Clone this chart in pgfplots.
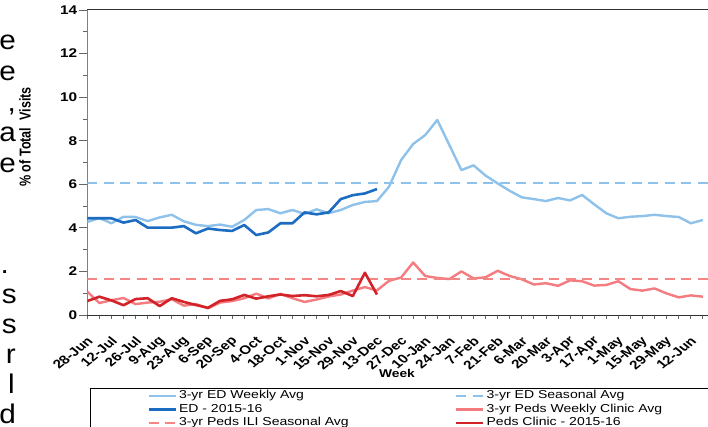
\documentclass[border=0pt]{standalone}
\usepackage{fontspec}
\setmainfont{Liberation Sans}[FakeStretch=1.22]
\newfontfamily\plainfont{Liberation Sans}
\usepackage{pgfplots}
\usepackage{pgfplotstable}
\pgfplotsset{compat=1.18}
\definecolor{ltblue}{HTML}{8FC2EA}
\definecolor{dkblue}{HTML}{1C6DC1}
\definecolor{pinkc}{HTML}{F47B7F}
\definecolor{pinkd}{HTML}{F58686}
\definecolor{dkred}{HTML}{D22329}

\pgfplotstableread{
w v
0 4.27
1 4.45
2 4.21
3 4.51
4 4.50
5 4.31
6 4.48
7 4.60
8 4.30
9 4.14
10 4.08
11 4.15
12 4.05
13 4.36
14 4.82
15 4.86
16 4.67
17 4.82
18 4.64
19 4.85
20 4.67
21 4.82
22 5.05
23 5.19
24 5.23
25 5.89
26 7.11
27 7.85
28 8.26
29 8.95
30 7.80
31 6.65
32 6.87
33 6.40
34 6.04
35 5.70
36 5.40
37 5.32
38 5.23
39 5.37
40 5.26
41 5.51
42 5.08
43 4.67
44 4.44
45 4.51
46 4.54
47 4.60
48 4.54
49 4.50
50 4.21
51 4.36
}\edweekly

\pgfplotstableread{
w v
0 4.44
1 4.44
2 4.44
3 4.24
4 4.36
5 4.01
6 4.01
7 4.01
8 4.08
9 3.75
10 3.97
11 3.90
12 3.86
13 4.13
14 3.67
15 3.79
16 4.21
17 4.21
18 4.71
19 4.62
20 4.71
21 5.32
22 5.50
23 5.58
24 5.78
}\edcur

\pgfplotstableread{
w v
0 1.07
1 0.55
2 0.68
3 0.78
4 0.50
5 0.57
6 0.61
7 0.72
8 0.43
9 0.50
10 0.31
11 0.57
12 0.64
13 0.77
14 0.98
15 0.76
16 0.97
17 0.77
18 0.60
19 0.71
20 0.85
21 0.94
22 1.12
23 1.28
24 1.13
25 1.57
26 1.72
27 2.41
28 1.79
29 1.70
30 1.65
31 2.00
32 1.68
33 1.73
34 2.03
35 1.79
36 1.64
37 1.40
38 1.46
39 1.34
40 1.59
41 1.55
42 1.35
43 1.38
44 1.55
45 1.19
46 1.12
47 1.22
48 0.99
49 0.81
50 0.90
51 0.84
}\pedsweekly

\pgfplotstableread{
w v
0 0.64
1 0.84
2 0.67
3 0.45
4 0.73
5 0.77
6 0.41
7 0.77
8 0.60
9 0.46
10 0.33
11 0.65
12 0.72
13 0.92
14 0.75
15 0.86
16 0.94
17 0.87
18 0.91
19 0.86
20 0.92
21 1.10
22 0.87
23 1.94
24 0.94
}\pedscur

\begin{document}
\begin{tikzpicture}
\useasboundingbox (0,0) rectangle (708pt,426pt);
\clip (0,0) rectangle (708pt,426pt);
\fill[white] (0,0) rectangle (708pt,426pt);
\begin{scope}[every node/.style={anchor=base east, inner sep=0pt, font=\plainfont\fontsize{27}{30}\selectfont, xscale=1.1}]
\node at (16pt,376pt) {e};
\node at (16pt,345.3pt) {e};
\node at (16pt,314.6pt) {,};
\node at (16pt,284pt) {a};
\node at (16pt,253.2pt) {e};
\node at (9pt,153pt) {.};
\node at (17pt,123pt) {s};
\node at (17pt,93pt) {s};
\node at (16pt,63pt) {r};
\node at (15pt,33pt) {l};
\node at (16pt,3pt) {d};
\end{scope}
\begin{axis}[
  at={(87.3pt,111pt)}, anchor=south west,
  scale only axis, width=627.6pt, height=305pt,
  xmin=0, xmax=52, ymin=0, ymax=14,
  separate axis lines,
  x axis line style={color=black!80, line width=1pt},
  y axis line style={color=black!50, line width=1pt},
  xtick pos=bottom, ytick pos=left,
  tick align=outside,
  xtick={0,2,...,50},
  minor xtick={0,...,52},
  major x tick style={draw=none},
  ytick={0,2,...,14},
  minor ytick={1,3,...,13},
  major tick length=8pt, minor tick length=4pt,
  tick style={color=black!60, line width=0.8pt},
  xticklabels={28-Jun,12-Jul,26-Jul,9-Aug,23-Aug,6-Sep,20-Sep,4-Oct,18-Oct,1-Nov,15-Nov,29-Nov,13-Dec,27-Dec,10-Jan,24-Jan,7-Feb,21-Feb,6-Mar,20-Mar,3-Apr,17-Apr,1-May,15-May,29-May,12-Jun},
  xticklabel style={xshift=3pt, yshift=-16pt, xscale=1.25, rotate=45, anchor=east, inner sep=0pt, font=\plainfont\fontsize{12.2}{14}\selectfont\bfseries},
  yticklabel style={anchor=east, inner sep=0pt, font=\fontsize{12.6}{15}\selectfont\bfseries, xshift=-2pt},
  /pgf/number format/assume math mode=true,
  xlabel={Week},
  xlabel style={at={(axis description cs:0.4935,-0.1902)}, anchor=center, font=\fontsize{11.3}{14}\selectfont\bfseries},
  ylabel={\% of Total~~Visits},
  ylabel style={at={(axis description cs:-0.0993,0.5836)}, anchor=center, yscale=1.25, font=\plainfont\fontsize{12.6}{14}\selectfont\bfseries},
  legend columns=2,
  legend style={at={(axis description cs:0.0043,-0.2393)}, anchor=north west, draw=black, line width=0.8pt,
    inner xsep=57pt, inner ysep=1.5pt, font=\fontsize{11.5}{14}\selectfont,
    nodes={inner sep=0pt, text height=9pt, text depth=3pt, anchor=west}, row sep=1.5pt,
    /tikz/every odd column/.append style={column sep=2pt},
    /tikz/every even column/.append style={column sep=10pt}},
  legend image code/.code={\draw[#1] (0pt,0pt) -- (27pt,0pt);},
  every axis plot/.append style={line join=round},
]
\addplot[ltblue, line width=2.4pt] table[x=w,y=v] {\edweekly};
\addlegendentry{\makebox[266pt][l]{3-yr ED Weekly Avg}}
\addplot[ltblue, line width=2.4pt, dash pattern=on 10pt off 6.5pt] coordinates {(0,6.06) (52,6.06)};
\addlegendentry{\makebox[266pt][l]{3-yr ED Seasonal Avg}}
\addplot[dkblue, line width=2.6pt] table[x=w,y=v] {\edcur};
\addlegendentry{\makebox[266pt][l]{ED - 2015-16}}
\addplot[pinkc, line width=2.4pt] table[x=w,y=v] {\pedsweekly};
\addlegendentry{\makebox[266pt][l]{3-yr Peds Weekly Clinic Avg}}
\addplot[pinkd, line width=2.4pt, dash pattern=on 10pt off 6.5pt] coordinates {(0,1.65) (52,1.65)};
\addlegendentry{\makebox[266pt][l]{3-yr Peds ILI Seasonal Avg}}
\addplot[dkred, line width=2.6pt] table[x=w,y=v] {\pedscur};
\addlegendentry{\makebox[266pt][l]{Peds Clinic - 2015-16}}
\end{axis}
\end{tikzpicture}
\end{document}
